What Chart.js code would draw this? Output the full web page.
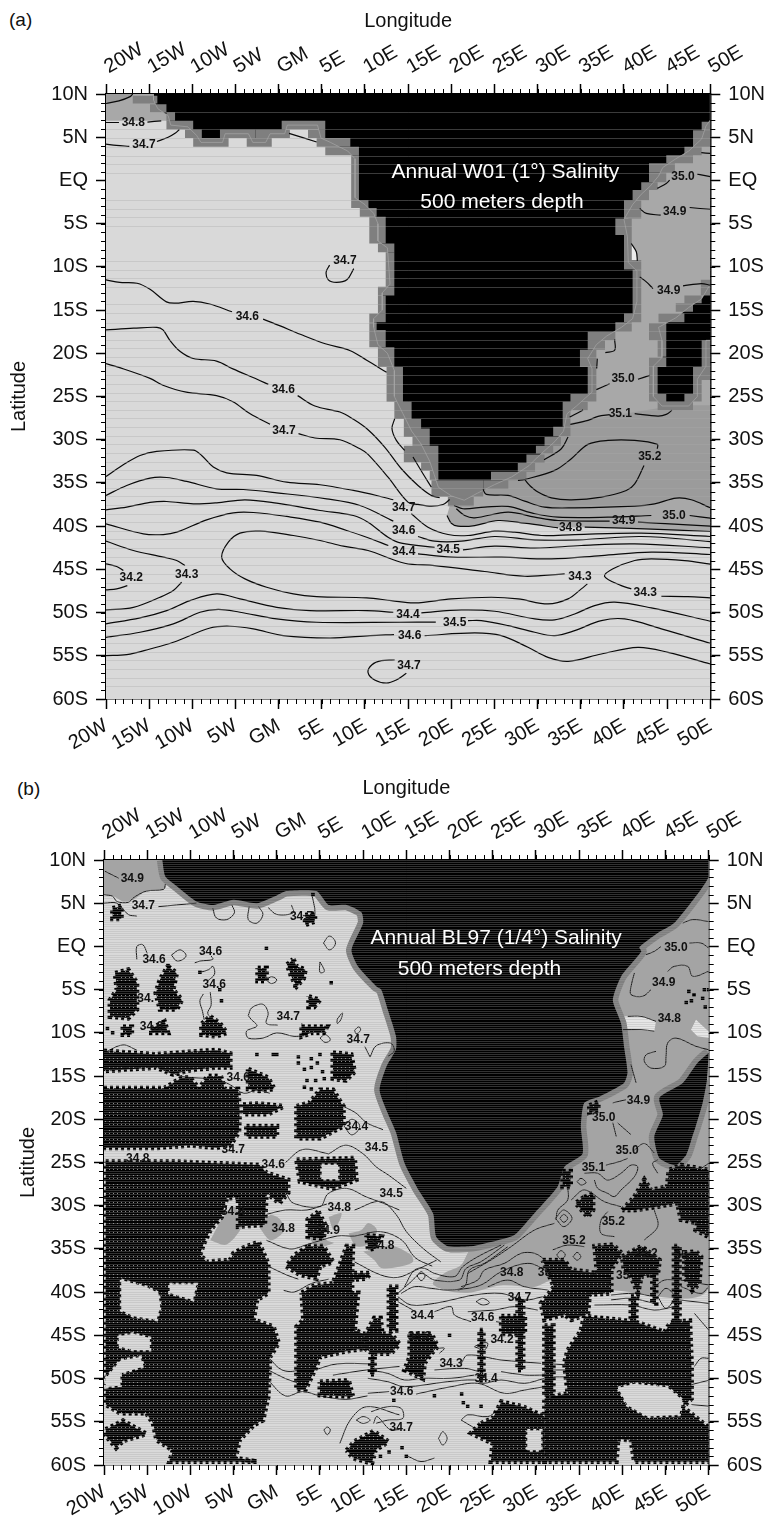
<!DOCTYPE html>
<html>
<head>
<meta charset="utf-8">
<script src="https://cdn.jsdelivr.net/npm/chart.js@4/dist/chart.umd.min.js"></script>
<style>
  body { margin: 0; background: #fff; font-family: "Liberation Sans", Arial, sans-serif; }
  canvas { position: absolute; left: 0; }
  .tag { position: absolute; font-size: 19px; color: #111; }
</style>
</head>
<body>
<div class="tag" style="left:9px;top:9px">(a)</div>
<canvas id="panelA" width="768" height="760" style="top:0"></canvas>
<div class="tag" style="left:17px;top:778px">(b)</div>
<canvas id="panelB" width="768" height="757" style="top:760px"></canvas>
<script>
// axis labels
const lonTicks = [-20,-15,-10,-5,0,5,10,15,20,25,30,35,40,45,50];
const lonLabels = ['20W','15W','10W','5W','GM','5E','10E','15E','20E','25E','30E','35E','40E','45E','50E'];
const latTicks = [10,5,0,-5,-10,-15,-20,-25,-30,-35,-40,-45,-50,-55,-60];
const latLabels = ['10N','5N','EQ','5S','10S','15S','20S','25S','30S','35S','40S','45S','50S','55S','60S'];

// ---- panel (a), everything is [lon, lat]
const titleA = [['Annual W01 (1°) Salinity',26.26,0.93],['500 meters depth',25.87,-2.55]];
const landA = [
  [[-14.5,10],[-14.5,9.3],[-14,8.3],[-12.8,7.5],[-12.5,6.4],[-10.5,6.2],[-9.5,5.2],[-9,4.4],[-6.5,4.4],[-6.2,5.4],[-3.5,5.4],[-3,4.4],[-1.5,4.4],[-1,5.4],[.7,5.4],[1,6.4],[4.5,6.4],[4.9,4.9],[6,4.4],[8,3.4],[8.85,2.5],[8.85,-2],[10,-2.8],[11,-3.8],[11.5,-5],[11.5,-7],[12.6,-7.8],[12.9,-12],[12,-13],[12,-15],[11,-16],[11,-17],[11.5,-19],[12.6,-20],[13.4,-22],[13.4,-25],[14.4,-27],[15.4,-29],[16.5,-30.5],[17.5,-32.5],[18,-34],[18.5,-35.5],[20,-36.5],[21.5,-37],[23,-36.2],[25,-35.2],[27,-34.3],[29,-33],[30,-32],[31,-31.1],[32,-30.2],[33,-29],[33.4,-27],[34.5,-26.1],[35.5,-25.2],[36.3,-24.5],[36.3,-21.8],[35.8,-20.6],[36.8,-19],[38,-18],[39.7,-17],[41,-16],[41.5,-14],[41.5,-10.5],[40.5,-9.5],[40.4,-6.5],[40,-4.5],[41,-2.8],[42,-1.6],[43,-.7],[44,.5],[44.5,1.5],[46,2.5],[47.5,3.4],[49,4.8],[49.5,6.3],[50,7],[50,10]],
  [[50,-12],[49,-13.7],[47.5,-14.7],[46,-15.9],[44,-17],[44.4,-18.5],[44.4,-20.5],[43.4,-21.5],[43.4,-25],[44.4,-26.1],[47.5,-26.1],[48.5,-25],[48.5,-23],[49.5,-21.5],[49.5,-18.5],[50,-18.5]]
];
// one degree coast cells, [lon left, lon right, lat top, lat bottom]
const coastCellsA = [
  [-16.9,-14.05,9.8,8.9],[-14.9,-13,8.8,7.9],[-13,-12,7.9,6.9],[-13,-9.9,6.9,5.9],[-10.85,-8.9,5.9,4.9],[-9.9,-5.8,4.9,3.9],[-6.8,-2.7,5.9,4.9],[-3.7,-.8,4.9,3.9],[-2.7,1.3,5.9,4.9],[.35,5.4,6.9,5.9],[3.4,5.4,5.9,4.9],[4.4,8.3,4.9,3.9],[5.4,9.3,3.9,2.9],[8.4,9.3,2.9,-2.3],[8.4,10.4,-2.3,-3.2],[9.4,11.35,-3.2,-4.2],[10.5,12.4,-4.2,-7.3],[11.5,13.4,-7.3,-8.3],[12.4,13.4,-8.3,-12.3],[11.5,13.4,-12.3,-13.3],[11.5,12.4,-13.3,-15.4],[10.5,12.4,-15.4,-16.4],[10.5,11.35,-16.4,-17.3],[10.5,12.4,-17.3,-19.3],[11.5,13.4,-19.3,-21.6],
  [12.5,14.4,-21.6,-25.6],[13.4,15.4,-25.6,-27.6],[14.5,16.5,-27.6,-29.7],[15.5,17.5,-28.7,-30.7],[14.5,18.5,-30.7,-32.6],[16.5,18.5,-32.6,-33.6],[17.5,18.5,-33.6,-34.7],[17.7,23.7,-34.7,-36.6],[19.6,22.6,-36.6,-37.7],[23.7,26.6,-34.7,-35.7],[24.6,28.7,-33.7,-34.7],[27.7,29.7,-32.7,-33.7],[28.7,30.8,-31.7,-32.7],[29.8,31.8,-30.7,-31.6],[30.8,32.7,-29.7,-30.7],[31.8,33.8,-28.5,-29.6],[32.9,33.8,-26.6,-28.5],[32.9,35.8,-25.6,-26.6],[33.8,36.8,-24.7,-25.6],[35.8,36.8,-21.6,-24.7],[34.9,36.8,-19.6,-21.6],[35.8,37.8,-18.5,-19.6],[35.8,39,-17.5,-18.5],[39,40.9,-16.4,-17.5],[40,42,-15.4,-16.4],[41,42,-10.3,-15.4],[40,42,-9.2,-10.3],[40,40.9,-6.3,-9.2],[39,40.9,-4.4,-6.3],[40,42,-2.3,-4.4],[41,42.9,-1.1,-2.3],[42,43.9,-.2,-1.1],[42.9,44.9,.9,-.2],[42.9,45.9,2,.9],[44.9,48,2.9,2],[47,49,3.9,2.9],[48,50,5.8,3.9],[49,50,6.8,5.8],
  [48.9,50,-11.5,-13.3],[47,49,-13.3,-14.2],[46,48,-14.2,-15.2],[44,47,-15.4,-16.4],[42.9,44.9,-16.5,-18.5],[43.9,44.9,-18.5,-20.4],[42.9,44.9,-20.5,-21.6],[42.9,43.9,-21.6,-24.7],[42.9,44.9,-24.7,-25.6],[43.9,48,-25.6,-26.6],[47,49,-24.7,-25.6],[48,49,-23.1,-24.7],[48,50,-21.6,-23.1],[49,50,-18.5,-21.6]
];
const midZoneA = [
  [[-20,10],[-14,10],[-13,7.9],[-12,6.9],[-20,6.9]],
  [[50,7],[48,4],[43,1],[40.5,-3],[40.5,-9],[41,-15],[36,-19],[33,-26],[30,-31],[24,-35],[20,-37],[19.5,-38.77],[20,-39.66],[20.77,-40],[22.71,-39.93],[25.41,-39.35],[28.5,-39.66],[32.36,-40.2],[35.45,-40.12],[42.4,-40.31],[50,-40.62]]
];
const deepZoneA = [
  [[-20,10],[-16.9,10],[-17.2,9.7],[-18.5,9.2],[-20,8.9]],
  [[23.67,-35.76],[24.06,-36.33],[26.57,-36.45],[28.5,-37.11],[30.81,-37.8],[34.29,-37.88],[41.24,-37.69],[43.55,-37.42],[46.06,-36.76],[47.8,-36.95],[50,-37.88],[50,-26],[46,-26],[34,-28],[30,-32],[25,-35]]
];
const paleZoneA = [[[40.85,-7.3],[41.45,-8.3],[41.55,-9.3],[40.9,-9.3]]];
const scanLatsA = [7.88,5.87,4.86,3.86,2.82,1.85,.85,-2.28,-3.32,-4.29,-5.37,-9.38,-10.39,-11.39,-12.39,-14.4,-15.4,-16.5,-17.5,-18.5,-19.5,-20.5,-21.5,-22.6,-23.6,-24.6,-25.6,-26.6,-27.6,-28.6,-29.6,-30.6,-31.6,-32.6,-33.6,-34.6,-35.6,-36.6,-37.6,-38.6,-39.6,-40.6,-41.6,-42.6,-43.6,-44.6,-45.6,-46.6,-47.6,-48.6,-49.6,-50.6,-51.6,-52.6,-53.6,-54.6,-55.6,-56.6,-57.6,-58.6];
const contoursA = [
  [[-20,8.9],[-18.5,9.2],[-17.2,9.7],[-16.9,10]],
  [[-20,6.7],[-18.5,6.7]],[[-15.2,6.75],[-13.6,6.9]],
  [[-20,4.2],[-18.8,4.05],[-17.3,3.95]],[[-14.1,4.5],[-12.8,5],[-12,5.45],[-11.5,5.9]],
  [[1.2,5.45],[4.4,4.45]],
  [[5.9,-9.8],[5.5,-10.6],[5.75,-11.5],[6.7,-11.8],[7.9,-11.5],[8.7,-10.2]],
  [[-20,-11.5],[-18.4,-11.8],[-16.4,-11.9],[-14.9,-12.6],[-13,-14.05],[-12,-14.2],[-9.9,-14],[-8,-14.3],[-5.4,-15.2]],
  [[-1.8,-16.05],[.1,-16.8],[2.5,-17.8],[5.4,-18.9],[8.3,-19.7],[10.2,-20.8],[12.5,-22.2]],
  [[-20,-17.3],[-16.8,-17.1],[-14.1,-17],[-13.4,-17.3],[-12.6,-18.5],[-11.4,-19.8],[-9.9,-20.6],[-7.2,-20.9],[-5.3,-21.8],[-2.5,-23],[-1.2,-23.6]],
  [[2.2,-24.9],[4.2,-26.1],[7.1,-26.8],[8.6,-27.6],[10.35,-28.84],[12.28,-30.85],[14.21,-33.36],[16.14,-35.29],[17.69,-36.45],[18.65,-36.72]],
  [[-20,-21.2],[-18.6,-21.6],[-14.9,-22.9],[-13.4,-23.7],[-10.7,-24.5],[-7.2,-24.9],[-5.3,-25.6],[-3.3,-27],[-1,-28.2]],
  [[2.3,-29.3],[4.2,-29.8],[7.1,-30],[9.42,-31.05],[10.35,-31.7],[12.67,-34.33],[14.98,-37.22],[16.14,-37.49],[17.69,-37.69],[19.04,-37.49],[19.81,-36.93]],
  [[-20,-34.25],[-18,-32.9],[-16.06,-31.82],[-14.13,-31.35],[-9.88,-31.2],[-8.92,-31.82],[-7.57,-33.17],[-6.02,-33.83],[-2.55,-34.13],[.93,-34.91],[4.79,-35.21],[8.65,-35.87],[11.35,-36.45],[13.28,-36.95]],
  [[-20,-36.45],[-17.6,-35.29],[-14.9,-34.44],[-12.97,-34.37],[-10.66,-34.83],[-7.18,-35.68],[-4.09,-35.76],[-.23,-36.14],[5.56,-36.84],[9.42,-37.61],[13.28,-39.42]],
  [[-20,-38.11],[-17.6,-37.8],[-14.9,-37.26],[-12.97,-37.15],[-9.88,-37.42],[-7.18,-37.3],[-3.9,-36.95],[-.23,-37.34],[4.79,-38.19],[8.65,-38.77],[10.35,-39.54],[12.67,-41.28],[14.21,-41.97],[18.07,-42.44]],
  [[-20,-39.73],[-15.68,-40.89],[-13.36,-40.97],[-11.81,-40.7],[-8.34,-39.27],[-5.25,-38.46],[-2.93,-38.42],[.93,-38.88],[4.79,-39.54],[7.88,-40.5],[10.19,-41.28],[12.7,-42.24]],
  [[33.13,-45.52],[28.5,-45.8],[23.86,-45.25],[18.07,-44.56],[14.6,-44.29],[10.35,-42.82],[7.49,-42.32],[4.79,-41.66],[1.7,-41.08],[-2.16,-40.58],[-4.48,-40.81],[-5.83,-41.86],[-6.6,-43.59],[-5.64,-44.94],[-3.9,-46.1],[-1.39,-47.07],[1.7,-47.84],[4.4,-48.15],[10.19,-48.3],[13.05,-48.61],[15.76,-48.88],[20,-48.42],[24.64,-48.23],[27.73,-48.42],[31.2,-49],[33.52,-48.42],[35.06,-47.26],[35.76,-46.68]],
  [[50,-44.4],[47.03,-43.98],[43.17,-43.79],[41.24,-43.98],[38.73,-44.94],[37.76,-45.83],[39.69,-46.88],[40.85,-47.26]],
  [[44.33,-48.11],[47.41,-48.15],[50,-48.3]],
  [[-20,-44.37],[-18.76,-44.67],[-17.99,-45.14]],[[-20,-47.38],[-18.76,-47.26],[-17.53,-46.88]],
  [[-20,-41.74],[-16.83,-42.82],[-13.36,-43.59],[-11.81,-43.98],[-10.85,-44.56]],
  [[-20,-49.69],[-16.83,-49.39],[-13.75,-48.23],[-12.2,-47.45],[-11.24,-46.49]],
  [[-20,-51.31],[-16.06,-50.62],[-12.97,-49.77],[-10.27,-48.61],[-7.18,-47.84],[-4.48,-48.42],[-.23,-49.39],[3.63,-49.77],[10.19,-49.77],[13.28,-49.96]],
  [[16.53,-50.04],[21.16,-49.69],[25.02,-49.85],[29.66,-50.74],[31.97,-50.85],[34.29,-50.16],[36.6,-49.19],[38.92,-48.8],[43.17,-49.46],[50,-51]],
  [[-20,-52.86],[-16.06,-52.28],[-12.2,-51.31],[-9.11,-49.96],[-6.99,-49.62],[-4.48,-49.96],[-.23,-50.74],[4.4,-51.12],[14.05,-51.12],[18.2,-51.1]],
  [[21.93,-50.93],[23.48,-50.93],[26.57,-51.51],[29.66,-52.28],[31.97,-52.67],[34.29,-52.09],[37.38,-50.93],[40.08,-50.74],[44.33,-51.89],[50,-53.55]],
  [[-20,-54.98],[-17.6,-54.87],[-14.9,-54.21],[-12.2,-53.44],[-7.95,-51.78],[-5.64,-51.58],[-2.93,-51.89],[.54,-52.67],[5.95,-52.94],[10.58,-52.67],[13.36,-52.55]],
  [[16.91,-52.67],[22.71,-52.36],[25.79,-52.67],[28.88,-54.02],[31.2,-55.18],[33.52,-55.64],[37.38,-54.79],[41.62,-54.02],[45.1,-54.6],[50,-55.95]],
  [[13.44,-55.49],[11.9,-55.56],[10.81,-56.03],[10.35,-56.91],[11.12,-57.8],[12.47,-58.15],[13.63,-57.8],[14.79,-57.03]],
  [[23.67,-35.76],[24.06,-36.33],[26.57,-36.45],[28.5,-37.11],[30.81,-37.8],[34.29,-37.88],[41.24,-37.69],[43.55,-37.42],[46.06,-36.76],[47.8,-36.95],[50,-37.88]],
  [[20.31,-37.61],[21.35,-37.99],[23.86,-37.8],[26.57,-37.72],[29.66,-38.57],[32.36,-38.96],[38.15,-38.96],[43.17,-38.77]],[[47.61,-38.77],[50,-39.08]],
  [[20.58,-37.99],[21.55,-38.77],[22.71,-39.04],[26.57,-38.38],[29.66,-38.96],[32.36,-39.35],[38.34,-39.42]],[[41.62,-39.54],[50,-40]],
  [[19.5,-38.77],[20,-39.66],[20.77,-40],[22.71,-39.93],[25.41,-39.35],[28.5,-39.66],[32.36,-40.2]],[[35.45,-40.12],[42.4,-40.31],[50,-40.62]],
  [[15.37,-38.57],[17.3,-40.12],[19.62,-40.97],[21.93,-41.08],[25.02,-40.58],[27.34,-40.7],[30.43,-41.08],[34.29,-40.97],[42,-40.81],[50,-41.2]],
  [[16.14,-41.2],[18.07,-41.74],[21.16,-41.74],[25.02,-41.2],[29.66,-41.59],[34.67,-41.59],[42,-41.2],[50,-41.78]],
  [[21.35,-42.74],[25.02,-42.32],[29.66,-42.55],[35.06,-42.24],[41.24,-42.05],[50,-42.51]],
  [[16.14,-43.21],[20,-43.59],[25.79,-43.59],[31.59,-43.79],[37.38,-43.4],[43.17,-43],[50,-43.28]],
  [[48.96,3.21],[50,3.13]],
  [[43.86,-.92],[44.9,-.35],[45.29,.04]],[[48.5,.73],[50,.43]],
  [[41.82,-3.24],[42.59,-3.82],[44.25,-4.01]],[[47.61,-3.13],[50,-3.36]],
  [[40.85,-7.3],[41.43,-8.26],[41.55,-9.3]],
  [[41.82,-11.16],[42.59,-11.74],[43.36,-12.51]],[[46.84,-12.2],[48.96,-11.93],[50,-12.12]],
  [[38.92,-18.41],[38.92,-19.65],[37.84,-19.92]],[[36.91,-20.62],[36.84,-21.77]],
  [[36.8,-24.21],[38.34,-23.52]],[[41.62,-23.01],[42.97,-22.55]],
  [[33.71,-27.38],[35.06,-26.68],[35.25,-26.53]],
  [[33.79,-28.23],[35.83,-27.76],[37,-27.3],[38.34,-27.1]],[[41.24,-26.99],[43.94,-27.26],[44.9,-27.07],[45.56,-26.6]],
  [[30.74,-32.32],[32.74,-31.05],[33.52,-29.69]],
  [[27.72,-34.71],[28.5,-34.6],[31.97,-33.55],[33.9,-32.2],[35.83,-30.54],[38.15,-30.08],[41.24,-30.08],[43.86,-30.54],[43.86,-31.05]],
  [[42.32,-32.98],[41.24,-35.1],[40.27,-35.87],[37.38,-36.64],[33.9,-36.95],[31.59,-36.72],[30.04,-36.06],[29.08,-35.29],[28.5,-34.6]],
  [[13.44,-27.57],[13.13,-28.73],[13.63,-30.08],[14.6,-31.24]],[[15.56,-32],[16.72,-33.94],[17.69,-35.49]]
];
const labelsA = [
  ['34.8',-16.83,6.68],['34.7',-15.6,4.09],['34.7',7.68,-9.23],['34.6',-3.63,-15.79],['34.6',.54,-24.18],['34.7',.62,-28.9],['34.2',-17.07,-46.02],['34.3',-10.66,-45.56],
  ['34.7',14.48,-37.92],['34.6',14.48,-40.5],['34.4',14.48,-42.94],['34.5',19.65,-42.7],['34.8',33.82,-40.23],['34.9',39.96,-39.42],['35.0',45.79,-38.84],['34.3',34.91,-45.83],['34.3',42.47,-47.65],
  ['34.4',14.98,-50.2],['34.5',20.39,-51.12],['34.6',15.18,-52.67],['34.7',15.1,-56.14],['35.1',39.58,-26.99],['35.2',43,-32],['35.0',39.9,-22.93],['35.0',46.84,.43],['34.9',45.87,-3.63],['34.9',45.18,-12.7]
];

// ---- panel (b)
const titleB = [['Annual BL97 (1/4°) Salinity',25.4,0.9],['500 meters depth',23.46,-2.6]];
const landB = [
  [[-13.25,10],[-12.9,8.1],[-11.6,7],[-9.3,5.2],[-7.35,4.8],[-5,5.4],[-2.3,5],[0,5.9],[1.1,6.4],[4.6,6.4],[6,4.8],[8.1,4.8],[9.8,3.95],[10,2.7],[8.65,-.4],[9.4,-2.3],[11.5,-4.6],[12.1,-5],[12.85,-7.3],[13.8,-10.4],[13.8,-11.9],[12.7,-13.9],[11.9,-16.6],[12.85,-19.3],[13.8,-21.5],[14.8,-25.1],[16.3,-28],[18.1,-30.9],[18.45,-33.6],[19.8,-34.7],[22.5,-34.7],[25.6,-34],[27.5,-33.4],[29.8,-30.9],[32.5,-27.8],[33.3,-25.5],[35.4,-24],[35.2,-20.8],[35.6,-18.1],[37.5,-17.3],[40.2,-15.8],[40.6,-14.6],[40.2,-11.6],[39.85,-8.9],[38.9,-6.2],[39.85,-3.5],[42.2,-.6],[41.97,-.1],[44.1,1.55],[46,2.7],[49.1,6.6],[50,8.1],[50,10]],
  [[50,-12.3],[48.7,-13.5],[47,-15.8],[44.3,-17.5],[44.7,-19.5],[43.7,-22],[44.3,-24.5],[46.2,-25.3],[47.4,-24.1],[48.1,-22],[48.5,-20.8],[49.3,-18.1],[49.8,-15.4]]
];
const midZoneB = [
  [[-20,10],[-13.3,10],[-12.9,6.8],[-15.1,6.4],[-16.6,5.4],[-17.8,5.2],[-18.9,5.8],[-20,6]],
  [[50,8.1],[42,-.5],[39,-6],[40,-12],[40.5,-15],[35,-20],[33,-26],[29.8,-31],[25.6,-34.2],[22.5,-35],[21.3,-36.9],[19.4,-37.8],[18.06,-39],[19.4,-39.75],[22.1,-40.1],[26,-39.2],[29.8,-39.4],[32.1,-38.6],[39.1,-39.8],[50,-39.4]],
  [[-7.7,-34],[-6.2,-31.3],[-5,-30.1],[-3.9,-32],[-5.8,-34.5]],
  [[-2.1,-32.4],[-.8,-31.1],[.3,-31.5],[.9,-32.8],[-.7,-34]],
  [[3.3,-32.8],[4.3,-31.8],[5.8,-34],[6.6,-34.3],[4.6,-34.7]],
  [[6,-31.3],[7.5,-30.9],[6.6,-32.8]],
  [[8.3,-33.2],[9.8,-32.8],[10.6,-32],[11.6,-32.8],[10.8,-34.3],[9.2,-34.7]],
  [[10,-35.3],[11.9,-34.9],[13.3,-34.6],[15.55,-35.7],[15.75,-36.5],[14,-37.1],[12.1,-37.2],[11.3,-36.3]]
];
const paleZoneB = [
  [[40.04,-8.1],[42.16,-8],[43.9,-8.67],[43.7,-9.8],[40.23,-9.6]],
  [[47.95,-9.63],[48.53,-8.47],[50,-9.83],[50,-10.6],[48.7,-10.4]]
];
const missingB = [
  [[-18.7,-3.1],[-17.2,-2.7],[-16.2,-4.2],[-16.2,-7.3],[-17.2,-8.3],[-19.3,-8.1],[-19.3,-6.2],[-18.5,-5]],
  [[-12.6,-2.3],[-11.6,-3.1],[-12,-5],[-11,-6.2],[-11.6,-7.3],[-13.5,-7.3],[-14,-5.4],[-13.5,-3.8]],
  [[-7.7,-8.1],[-6.6,-8.9],[-5.8,-10],[-7,-10.4],[-8.7,-10.2],[-8.7,-9]],
  [[-14.5,-9.5],[-13,-8.7],[-12.6,-10],[-14.5,-10]],[[-17.8,-9.3],[-16.8,-9.3],[-16.8,-10.2],[-17.8,-10.2]],
  [[-2.2,-2.5],[-1.2,-2.5],[-1.2,-4],[-2.2,-4]],
  [[1.9,-1.5],[2.3,-2.3],[3.3,-2.7],[3.1,-3.7],[2.3,-4.6],[1.7,-3.5],[1.2,-2.1]],
  [[3.7,-5.8],[5,-6.2],[4.3,-7],[3.7,-7]],[[2.9,-9.3],[5.8,-9.3],[5.4,-10],[4,-10],[2.9,-10.4]],
  [[3.3,3.6],[4.4,3.8],[4.4,2.9],[3.3,2.5]],[[-19,4.4],[-18,4.7],[-18,3.2],[-19,3.2]],
  [[-20,-12.1],[-14,-12.5],[-10,-12.2],[-7,-12],[-5.4,-12.4],[-5.4,-14],[-7,-14],[-10,-14.3],[-12,-14.8],[-14,-14],[-20,-14.4]],
  [[-20,-16.4],[-13,-16.4],[-11,-15.2],[-10,-15.2],[-9,-16.5],[-8,-15],[-6.5,-15],[-6,-16.5],[-4.5,-16.5],[-4.3,-19],[-4.4,-21.5],[-5.4,-23],[-7,-23.3],[-10,-23],[-14,-23.3],[-20,-23.3]],
  [[-19.8,-24.9],[-12,-24.9],[-2,-25.3],[-1.2,-26.2],[1.3,-27],[1.3,-28.5],[.3,-29.7],[-1.2,-28.5],[-1.4,-32.2],[-4.46,-32.4],[-4.46,-29],[-5.8,-29.15],[-6.4,-31.3],[-7.7,-32.8],[-8.5,-34.5],[-8.9,-35.7],[-8.1,-36.5],[-5.4,-36.3],[-5,-35.5],[-3.9,-34.9],[-2.1,-34.2],[-1,-36.7],[-1,-40.1],[-2.3,-40.9],[-2.7,-43.2],[-.4,-44],[.2,-45.9],[-.8,-47.5],[-1,-52.1],[-1.6,-54.8],[-2.7,-55.4],[-4.3,-57.1],[-4.8,-59.2],[-2.3,-59.6],[-12.4,-59.6],[-12,-58.3],[-13.9,-57.1],[-14.3,-55.2],[-15.1,-54],[-18.1,-54],[-19.8,-53]],
  [[-19.8,-55.9],[-17.8,-54.9],[-15.1,-56.4],[-17.8,-57.2],[-18.6,-58],[-19.8,-56.6]],
  [[2.3,-24.7],[9,-24.5],[9.2,-27],[6.5,-28],[2.7,-27.2]],
  [[4.8,-30.7],[5.6,-32.2],[5.4,-33.8],[3.6,-33.6],[3.6,-31.6]],
  [[3.6,-34.7],[5.4,-34.7],[6.5,-36.5],[5,-37],[4.6,-38.4],[2.7,-38],[1.1,-37],[2.1,-35.7]],
  [[2.9,-40.1],[4.4,-39.2],[6.5,-39],[8.1,-34.7],[8.8,-34.7],[8.7,-37.8],[10.8,-37.8],[10.4,-38.4],[8.7,-38.6],[8.7,-40.1],[9.4,-40.1],[9,-44.4],[10,-44.8],[10.2,-46.5],[7.7,-46.9],[5,-47.5],[4.4,-49],[3.3,-51.3],[2.3,-51.3],[2.3,-44],[3.1,-43.2]],
  [[5,-50.4],[8.3,-50.2],[8.8,-52.1],[5,-51.9]],
  [[10.2,-45],[11.3,-43],[12,-43],[12.2,-44.8],[13.2,-44.8],[14.2,-46],[13.2,-47.1],[11.3,-47.1],[11.3,-49.5],[10.8,-49.5],[10.9,-47],[10.2,-46.5]],
  [[13,-39.4],[13.8,-39.4],[13.8,-44.4],[13,-44.4]],
  [[15.4,-44.8],[17.9,-44.8],[18.6,-46.3],[17.9,-47.1],[17.1,-48.2],[16.9,-50],[14.8,-49],[15.4,-47.5]],
  [[8.1,-58.3],[9,-57.3],[11.2,-56.1],[12.9,-57.3],[11.4,-58.3],[11,-59.8],[8.85,-59.2]],
  [[10.4,-33.4],[12.1,-33.6],[11.5,-34.9],[10.6,-35.1]],
  [[-3.9,-18.3],[-2,-18.2],[.8,-18.5],[-1,-19.4],[-3.9,-19.4]],
  [[2.3,-18.5],[3.8,-18.1],[5,-16.6],[6.5,-16.6],[7.7,-18.5],[7.7,-20.8],[5,-22.2],[2.3,-22.2]],
  [[-3.5,-20.8],[0,-20.8],[0,-22],[-3.5,-22]],
  [[6.5,-12.3],[8.6,-12.5],[9,-14.5],[8,-15.5],[6.5,-15.3]],
  [[-3.3,-14.2],[-1,-15.2],[-.3,-16.5],[-2,-16.7],[-3.3,-16.5]],
  [[30.8,-36.3],[33.3,-36.3],[34,-37.4],[37.1,-37.8],[36.8,-34.7],[38.9,-34.5],[39.9,-35.5],[38.7,-37.4],[38.7,-40.1],[36.2,-40.3],[36,-42.5],[34.1,-43.2],[33.3,-42.6],[31,-43.2],[30.6,-41.3],[32.1,-39.4]],
  [[33.7,-46.7],[35.2,-44.5],[35.6,-42.8],[41.4,-43.4],[44.9,-44.6],[45.6,-43.5],[47.8,-43.3],[48,-48.3],[48,-52.3],[47,-53.3],[50,-55.7],[50,-59.6],[41.4,-59.6],[41,-57.1],[39.5,-57],[39.3,-59.6],[31,-59.6],[31,-52.3],[33.7,-51.7],[33.3,-48.2]],
  [[31,-43.9],[32,-43.9],[32,-52.1],[31,-52.1]],
  [[40,-35.9],[42.2,-34.7],[44.3,-36.3],[44.1,-37.8],[42.2,-38.2],[41.8,-40.1],[41,-38.2],[40.2,-37.4]],
  [[43.5,-37.4],[43.9,-37.4],[43.9,-41.3],[43.5,-41.3]],[[41,-40.5],[41.6,-40.5],[41.6,-44],[41,-44]],
  [[46,-34.7],[46.6,-34.7],[46.6,-44],[46,-44]],
  [[40,-30.5],[41.4,-29],[42.55,-27],[43.3,-28.2],[45.2,-27.8],[45.4,-25.9],[46.8,-25.3],[50,-25.9],[50,-33.6],[48.5,-32.8],[48.7,-32],[46.8,-31.6],[46.4,-29.7],[44.1,-30.1],[41.4,-30.5]],
  [[47.2,-35.5],[48.5,-35.3],[49.1,-35.9],[48.9,-39],[48.1,-39.8],[47.2,-38.2]],
  [[35.6,-29],[36.6,-28.6],[36.6,-30.5],[36,-31.3],[34.6,-29.7]],
  [[33.1,-26],[34,-26],[34,-27.8],[33.1,-27.8]],
  [[23.5,-44.4],[23.9,-44.4],[23.9,-50.2],[23.5,-50.2]],[[27.9,-40.8],[28.5,-40.8],[28.5,-49],[27.9,-49]],
  [[26,-42.8],[28.7,-42.8],[28.7,-44.8],[26,-44.8]],
  [[23.65,-55.2],[25,-54.6],[26,-52.7],[28.5,-53.25],[31,-54.4],[31,-59.6],[24.8,-59.6],[25,-57.5],[22.5,-56.3]],
  [[36.2,-18.4],[37.2,-18],[37.2,-19],[36.2,-19.2]]
];
const holesB = [
  [[-18,-38.6],[-15.1,-39.4],[-13.7,-40.1],[-13.5,-41.7],[-13.9,-43.2],[-16.6,-42.8],[-18,-42.1]],
  [[-18.3,-45.1],[-16.6,-44.8],[-14.7,-45.3],[-14.7,-46.7],[-16.6,-46.7],[-18.3,-46.3]],
  [[-19.8,-50],[-18.1,-47.9],[-15.8,-47.5],[-15.4,-48.6],[-18.1,-49.4],[-18.1,-50.8],[-19.8,-51]],
  [[-12.4,-39.1],[-9.3,-39.1],[-9.7,-40.9],[-12.4,-40.1]],
  [[5.2,-25.3],[7.1,-25.3],[7.1,-26.9],[5.2,-26.9]],
  [[39.5,-51.1],[41.4,-50.6],[45.2,-51],[46.98,-52.5],[46.6,-54.2],[42.9,-54.4],[40.6,-53.1]],
  [[29,-56],[30.6,-56],[30.6,-58.3],[29,-58.3]]
];
const specksB = [[-2.3,-12.5],[-.4,-12.5],[.0,-12.5],[2.5,-12.8],[2.5,-13.5],[3.2,-14.2],[4,-13],[4,-14],[4.7,-13.5],[5,-12.5],[5.3,-14.5],[3.5,-15.5],[4.5,-15.5],[3.2,-16.3],[4,-16.5],[5.5,-15.3],[-1.2,-.2],[4.2,6],[-8.9,-3],[-6.6,-5],[-6.4,-6.3],[6.3,-4.2],[2.1,-4.6],[21.4,-51.8],[21.6,-52.8],[22.1,-53.2],[23.65,-53.2],[18.25,-52],[13.55,-52.5],[-19.6,-9.5],[-19,-10],[-12.6,-2.2],[48,-6.3],[48.3,-5.6],[49.5,-5],[49.3,-6],[49.6,-7],[3.8,-37.5],[12,-59],[13,-58.5],[15,-59],[14.5,-58],[47.4,-6.5],[47.7,-5.2],[50,-5],[20,-45]];
const contoursB = [
  [[-19.9,8.7],[-18.3,7.9]],
  [[-20,6],[-19,5.8],[-18.5,5.2],[-17.2,5.1],[-16.5,5.7],[-15.1,6.4],[-13.1,6.6],[-12.9,7.2]],
  [[-20,5],[-18.5,5],[-17.2,3.7],[-16.2,3.5]],[[-13.7,4.6],[-11.6,4.8],[-9.3,5]],
  [[-7.4,4.4],[-7,3.3],[-5.8,3.1],[-4.9,3.9],[-5.2,4.8]],
  [[-3.2,4.6],[-3.3,3.1],[-2.3,2.7],[-1.6,3.7],[-2.1,4.6]],
  [[-1,4.5],[0,3.7],[1.9,3.9],[1.7,4.8]],[[4,6.2],[4.4,4.4],[4.4,3.5]],
  [[-16.2,-1.5],[-16.2,0],[-15.5,.2],[-15,-.8]],
  [[-9.5,-1.9],[-8.9,-1.7],[-7.4,-1.5],[-7.6,-1.1]],
  [[-8.9,-3],[-7.9,-2.7],[-7.4,-2.3],[-7.2,-3.2],[-8,-4]],
  [[-8.5,-5.5],[-8.9,-6.3],[-8.6,-7.5],[-8.4,-8.5]],[[-7.7,-5.3],[-7.6,-6.8],[-8,-7.7],[-7.6,-8.3]],
  [[-3.3,-8],[-2.9,-7.1],[-1.6,-6.7],[-1,-7.7],[-1.2,-8.9],[.1,-9.1]],
  [[2.9,-8.9],[2.9,-10.2],[2,-10.4],[0,-10],[-1.6,-10.6],[-3.3,-10.6],[-3.5,-9.8],[-2.3,-9.2],[-3,-8.4],[-3.3,-8]],
  [[10.2,-11.6],[10.8,-12.8]],[[10.8,-12.8],[11.5,-11.5],[13.2,-11.2],[13.6,-12.1],[12.9,-12.7]],
  [[-20,-12.3],[-17.8,-11.4],[-16.2,-12]],
  [[-12.8,-14.1],[-11.2,-15],[-7,-15.4],[-5.4,-16],[-3.8,-17],[-2.3,-16.6],[-.8,-17]],
  [[7.7,-18.5],[9.2,-19.3],[10.4,-20.4],[12.3,-21.2]],
  [[1.1,-28.6],[1.9,-29.7],[5,-30.1],[5.95,-28.6],[8.1,-28],[10.4,-29],[12.3,-29.7],[14.2,-30.5]],
  [[-1.2,-31],[1,-30.5],[3.5,-30.5],[5.8,-29.8]],
  [[-1.2,-34],[1.5,-35],[3.5,-34.5],[7,-33.5],[9,-33.5],[12,-33],[14.5,-34],[16,-36],[18,-37]],
  [[-1,-37],[1.1,-38],[2.5,-38.5]],[[9,-36.5],[12,-38],[14,-38.3],[16,-37.5],[18.5,-36.3]],
  [[.8,-39.8],[2,-40],[4,-39],[6,-38.5]],
  [[6,-24],[8,-23],[10,-24],[11.5,-25.5],[13,-26.5],[15,-28]],
  [[1,-25],[3,-23.5],[6,-24]],
  [[9,-30.5],[12,-29.5],[13.8,-31],[15,-33],[17,-35],[19,-36.5]],
  [[26.35,-34.55],[23.65,-36.47],[21.92,-37.25],[21.15,-38.6],[18.25,-38.6],[16.71,-37.83],[15.55,-38.79],[14.01,-40.14]],
  [[26.74,-34.74],[24.04,-36.67],[22.3,-37.44],[21.73,-39.37],[19.8,-39.75],[17.87,-39.56],[15.94,-39.37],[14.4,-40.14]],
  [[25.97,-34.55],[23.27,-35.9],[21.53,-37.05],[20.57,-38.2],[18.25,-37.83],[17.1,-37.25],[15.94,-37.44],[14.78,-39.37]],
  [[16.25,-38.13],[16.71,-37.63],[17.17,-38.13],[16.71,-38.67],[16.25,-38.13]],
  [[22.11,-37.82],[24.81,-36.28],[27.12,-34.74],[29.83,-32.81],[32.14,-32.04]],
  [[21.34,-39.37],[23.27,-38.6],[24.04,-37.44],[26.35,-36.67],[28.28,-35.51],[29.83,-35.51],[30.98,-36.28],[31.95,-37.82]],
  [[20.95,-39.75],[23.65,-39.18],[25.97,-37.63],[29.05,-36.67],[30.98,-37.44],[32.14,-38.6]],
  [[24.43,-39.37],[26.74,-38.6],[28.67,-39.37],[31.37,-39.75]],
  [[14.01,-40.53],[15.55,-41.49],[18.25,-41.3],[20.18,-40.91],[22.88,-40.33],[25.97,-40.14],[28.67,-40.91],[30.79,-40.53]],
  [[14.01,-41.1],[15.75,-42.07]],[[18.25,-42.26],[20.18,-41.68],[20.57,-42.65],[22.5,-43.42]],[[25.39,-43.42],[26.5,-43.6]],
  [[23.07,-41.1],[23.85,-40.72],[24.62,-41.22],[23.85,-41.49],[23.07,-41.1]],
  [[22.11,-42.26],[25.2,-42.07],[27.51,-41.68],[30.21,-42.07]],
  [[22.88,-46.31],[23.65,-45.92],[24.43,-45.92],[24.04,-46.69],[22.88,-46.31]],
  [[18.64,-46.5],[19.41,-46.5],[18.83,-47.07]],
  [[21.34,-48.24],[22.11,-47.27],[25.97,-47.85],[30.6,-48.24]],
  [[18.25,-49],[21.72,-48.82],[23.46,-49.2]],
  [[10.54,-49],[12.85,-49.4],[14.78,-50.17],[16.71,-49.97],[20.18,-49.97],[22.88,-49.59]],
  [[25.97,-49.2],[28.67,-49.59],[31,-49.59]],
  [[10.54,-49.97],[12.85,-50.36],[14.78,-50.94],[19.8,-50.36],[22.88,-50.17],[23.85,-50.55],[25.97,-50.17],[28.67,-50.55],[30.98,-49.97]],
  [[10.54,-51.71],[13,-51.5]],[[16.13,-51.79],[20.18,-50.94],[23.27,-50.55],[26.35,-51.71],[28.67,-51.33],[30.98,-50.94]],
  [[-1,-47.5],[.6,-49],[2.5,-49],[4.4,-47.5]],[[-1,-49],[1,-50],[2.7,-50.6]],[[-1,-50.2],[1,-52],[3,-51.5],[5,-52],[8,-52.4],[10.5,-52]],
  [[4.4,-49],[7,-48.3],[11,-48.3]],[[6.5,-49.6],[10.4,-49],[14.2,-48.6]],
  [[10.93,-53.83],[12.85,-53.25],[14.4,-53.45],[14.59,-54.6],[12.85,-54.8],[11.5,-55.18]],
  [[7.3,-57.5],[8.5,-54.8],[10.4,-53.25],[14.2,-54.2]],
  [[9.2,-54.8],[10,-54.4],[10.8,-54.8],[10,-55.2],[9.2,-54.8]],
  [[11.2,-55.2],[11.6,-54.4],[13.1,-55.9],[14.2,-55.9]],
  [[18.72,-56.92],[19.22,-56.15],[19.72,-56.92],[19.22,-57.7],[18.72,-56.92]],
  [[5.45,-55.95],[5.84,-55.6],[6.2,-55.95],[5.84,-56.5],[5.45,-55.95]],
  [[21.34,-54.8],[22.11,-54.2],[24.43,-54.4],[25.58,-53.64]],[[21.34,-54.8],[23.27,-55.95]],
  [[15.2,-59],[16.7,-59.6],[18.25,-59.2]],
  [[35.61,-26.25],[37.15,-26.25],[38.31,-27.03],[39.85,-26.25],[41.01,-25.29],[41.78,-25.48],[41.4,-26.64],[39.85,-28.18],[39.08,-28.95],[38.31,-28.57],[37.15,-27.99],[36.77,-27.03]],
  [[38.1,-25.3],[39.66,-24.9],[40.62,-24.52]],
  [[34.76,-27.22],[35.22,-26.83],[35.8,-27.33],[35.22,-27.6],[34.76,-27.22]],
  [[32.76,-31.46],[33.22,-31],[33.68,-31.46],[33.22,-31.92],[32.76,-31.46]],
  [[32.26,-31.46],[33.22,-30.5],[34.18,-31.46],[33.22,-32.42],[32.26,-31.46]],
  [[33.68,-27.8],[33.68,-29.34],[32.53,-30.5],[32.33,-31.65]],
  [[34.07,-29.34],[35.61,-28.18],[37.92,-29.53],[39.85,-30.11]],
  [[38.31,-30.69],[37.54,-31.65],[37.54,-33.2],[39.08,-33.58]],
  [[43.71,-30.5],[44.1,-32.4],[42.55,-33.97]],
  [[32.4,-35.7],[32.9,-35.2],[33.4,-35.7],[32.9,-36.2],[32.4,-35.7]],
  [[34.3,-35.9],[34.76,-35.4],[35.2,-35.9],[34.76,-36.3],[34.3,-35.9]],
  [[31.95,-35.1],[33.68,-34.55],[35.6,-34.74]],
  [[44.1,-26.25],[43.5,-25.1],[44.1,-24.7]],
  [[41.4,-23.55],[42.55,-22.8],[43.7,-23.9]],[[49.1,-25.7],[50,-25.1]],
  [[38.7,-40.33],[41.4,-40.14],[43.7,-40.53]],[[38.7,-40.9],[41,-40.72],[43.7,-41.3]],
  [[36.77,-41.5],[41,-41.5],[43.7,-42.07],[46,-41.68]],
  [[44.1,-40.53],[45.06,-39.56],[46,-40.53],[45.06,-41.88],[44.1,-40.53]],
  [[43.7,-39.37],[44.87,-38.6],[46.22,-38.6]],[[46.8,-38.6],[50,-39.17]],
  [[46.8,-39.37],[49.1,-40.14],[50,-39.37]],[[46.6,-40.9],[50,-41.3]],[[48.34,-42.45],[50,-44.38]],
  [[48.34,-48.6],[49.1,-47.66],[50,-47.66]],[[48,-50.7],[50,-50.2]],[[48,-53],[50,-53.2]],
  [[43.1,-52.67],[43.7,-52.29],[45.25,-53.25],[44.67,-54]],
  [[31,-48.24],[33.68,-48.43]],[[31,-49],[33.68,-49]],[[32,-49.8],[33.5,-49.8]],
  [[42.75,-.95],[43.71,-.57],[44.48,0]],[[47.76,.4],[49.1,.4],[50,-.18]],
  [[45.25,-2.88],[46.02,-2.3],[47.57,-2.3],[48.15,-3.46],[50,-2.88]],
  [[41.4,-3.07],[41.01,-4.62],[41.01,-5.58],[42.36,-5.77],[43.32,-5]],
  [[40.63,-8.09],[42.17,-8.09],[43.9,-8.67]],[[43.7,-9.8],[42.17,-9.63],[40.05,-9.63]],
  [[50,-11.95],[48.53,-11.56],[46.22,-10.6],[45.25,-11.17],[45.06,-12.72],[44.87,-13.87],[43.32,-14.07],[42.55,-13.3],[42.75,-12.54],[43.9,-12.14]],
  [[41,-13.68],[41.6,-15.8]],[[38.89,-18.1],[40.43,-17.73]],[[39.47,-20.43],[41,-21.78]],[[38.9,-20.4],[39.3,-22]],
  [[47,2.71],[48.15,3.1],[49.9,2.9]]
];
const ringsB = [
  [[5.4,.4],[6.1,1.2],[6.8,.4],[6.1,-.4]],[[-12.2,-1],[-11.2,-.4],[-10.5,-1.1],[-11.5,-1.7]],
  [[-1.2,-3.9],[-.6,-3.5],[0,-3.9],[-.6,-4.3]],[[5,-10.6],[5.6,-10.2],[6.2,-10.8],[5.6,-11.1]],
  [[7,-8.4],[7.6,-7.7],[7.4,-8.5],[7,-8.9]],[[9,-9.7],[9.5,-9.3],[9.7,-9.7],[9.2,-10.1]],
  [[7.8,-20.8],[8.7,-20],[9.6,-20.8],[8.7,-21.8]],[[5,-1.8],[5.3,-2.3],[5.5,-2.9],[5,-3]]
];
const labelsB = [
  ['34.9',-16.72,7.84],['34.7',-15.45,4.76],['34.7',2.87,3.48],['34.6',-14.2,-1.53],['34.6',-7.66,-.6],['34.6',-7.24,-4.42],['34.',-15.18,-6],['34.6',-14.5,-9.24],['34.7',1.33,-8.16],['34.7',9.43,-10.79],['34.6',-4.46,-15.22],['34.4',9.23,-20.81],
  ['34.8',-16.1,-24.52],['34.7',-5.04,-23.48],['34.6',-.41,-25.29],['34.5',11.55,-23.25],['34.5',13.24,-28.57],['34.8',7.23,-30.2],['34.8',.75,-32.69],['34.8',-5.11,-30.69],['34.9',5.95,-32.9],['34.8',12.28,-34.62],['34.8',27.2,-37.8],
  ['34.4',16.83,-42.72],['34.6',23.85,-42.95],['34.7',28.09,-40.64],['34.2',26.08,-45.54],['34.3',20.18,-48.3],['34.4',24.23,-49.97],['34.6',14.47,-51.5],['34.7',14.4,-55.68],['34.2',16.5,-45.15],
  ['35.0',40.55,-23.63],['35.1',36.65,-25.6],['35.2',38.96,-31.85],['35.2',34.4,-34.08],['35.2',42.75,-35.5],['35',30.98,-37.75],['35',40.05,-38.1],['35.',47,-35.8],
  ['35.0',46.2,-.1],['34.9',44.8,-4.15],['34.8',45.44,-8.4],['34.9',41.86,-17.8],['35.0',37.85,-19.85]
];

const FONT = '"Liberation Sans", Arial, sans-serif';

// chains lists of [lon,lat] into one dataset, a null point breaks the line
function chain(lists, closed) {
  const pts = [];
  lists.forEach(list => {
    list.forEach(p => pts.push({ x: p[0], y: p[1] }));
    if (closed) pts.push({ x: list[0][0], y: list[0][1] });
    pts.push({ x: null, y: null });
  });
  return pts;
}

function cellsToPolys(cells) {
  return cells.map(c => [[c[0], c[2]], [c[1], c[2]], [c[1], c[3]], [c[0], c[3]]]);
}

function area(lists, color, extra) {
  return Object.assign({ data: chain(lists, true), fill: 'shape', backgroundColor: color, borderWidth: 0, borderColor: color, pointRadius: 0, tension: 0 }, extra);
}

function lines(lists, color, width, tension, closed) {
  return { data: chain(lists, closed), fill: false, borderColor: color, borderWidth: width, pointRadius: 0, tension: tension };
}

function stipple() {
  const c = document.createElement('canvas');
  c.width = 4; c.height = 9;
  const x = c.getContext('2d');
  x.fillStyle = '#000';
  x.fillRect(0, 0, 4, 9);
  x.fillStyle = '#8a8a8a';
  x.fillRect(1, 1, 1, 1);
  x.fillRect(1, 4, 1, 1);
  return x.createPattern(c, 'repeat');
}

// text sitting on the map, contour labels and the map title
const mapText = {
  id: 'mapText',
  afterDraw(chart, args, opts) {
    const { ctx, scales: { x, y } } = chart;
    ctx.save();
    ctx.textAlign = 'center';
    ctx.textBaseline = 'middle';
    ctx.fillStyle = '#111';
    ctx.font = 'bold 12px ' + FONT;
    opts.labels.forEach(l => ctx.fillText(l[0], x.getPixelForValue(l[1]), y.getPixelForValue(l[2])));
    ctx.fillStyle = '#fff';
    ctx.font = '21px ' + FONT;
    opts.title.forEach(l => ctx.fillText(l[0], x.getPixelForValue(l[1]), y.getPixelForValue(l[2])));
    // one degree minor ticks on all four sides
    const a = chart.chartArea;
    ctx.strokeStyle = '#000';
    ctx.lineWidth = 1;
    ctx.beginPath();
    for (let v = -20; v <= 50; v++) {
      const px = Math.round(x.getPixelForValue(v)) + 0.5;
      ctx.moveTo(px, a.top); ctx.lineTo(px, a.top - 5);
      ctx.moveTo(px, a.bottom); ctx.lineTo(px, a.bottom + 5);
    }
    for (let v = -60; v <= 10; v++) {
      const py = Math.round(y.getPixelForValue(v)) + 0.5;
      ctx.moveTo(a.left, py); ctx.lineTo(a.left - 5, py);
      ctx.moveTo(a.right, py); ctx.lineTo(a.right + 5, py);
    }
    ctx.stroke();
    ctx.restore();
  }
};

function axis(position, labels, values, box, min, max, title) {
  const horizontal = position === 'top' || position === 'bottom';
  const opts = {
    type: 'linear', position, min, max,
    border: { display: true, color: '#000', width: 1.5 },
    grid: { drawOnChartArea: false, tickLength: 10, tickColor: '#000', tickWidth: 1.5 },
    ticks: {
      stepSize: 5, autoSkip: false, color: '#111', padding: horizontal ? 5 : 8,
      font: { family: FONT, size: 20 },
      callback: v => labels[values.indexOf(v)]
    },
    afterFit: s => { if (horizontal) s.height = box; else s.width = box; }
  };
  if (horizontal) { opts.ticks.maxRotation = 30; opts.ticks.minRotation = 30; }
  if (position === 'top') opts.ticks.labelOffset = 12;
  if (title) opts.title = { display: true, text: title.text, color: '#111', font: { family: FONT, size: 20 }, padding: { top: title.pad, bottom: 0 } };
  return opts;
}

function makePanel(id, cfg) {
  const sets = cfg.layers;
  sets.forEach((d, i) => { d.order = sets.length - i; });
  const yScan = {
    type: 'linear', position: 'left', min: -60, max: 10,
    border: { display: false },
    grid: { z: 1, color: cfg.scanColor, lineWidth: 1, drawTicks: false },
    ticks: { display: false, stepSize: 0.25 },
    afterFit: s => { s.width = 0; }
  };
  if (cfg.scanLats) yScan.afterBuildTicks = s => { s.ticks = cfg.scanLats.map(v => ({ value: v })); };
  return new Chart(document.getElementById(id), {
    type: 'line',
    data: { datasets: sets },
    options: {
      responsive: false, animation: false, devicePixelRatio: 1,
      layout: { padding: 0 },
      elements: { point: { radius: 0 } },
      plugins: { legend: { display: false }, tooltip: { enabled: false }, mapText: { labels: cfg.labels, title: cfg.title } },
      scales: {
        x: axis('bottom', lonLabels, lonTicks, cfg.box.bottom, -20, 50),
        xTop: axis('top', lonLabels, lonTicks, cfg.box.top, -20, 50, { text: 'Longitude', pad: cfg.lonPad }),
        y: axis('left', latLabels, latTicks, cfg.box.left, -60, 10, { text: 'Latitude', pad: cfg.latPad }),
        yRight: axis('right', latLabels, latTicks, cfg.box.right, -60, 10),
        yScan
      }
    },
    plugins: [mapText]
  });
}

const OCEAN = '#d9d9d9';
const wholeMap = [[[-20,10],[50,10],[50,-60],[-20,-60]]];

makePanel('panelA', {
  box: { left: 106, right: 57.7, top: 94, bottom: 61 }, lonPad: 9, latPad: 7,
  scanLats: scanLatsA, scanColor: 'rgba(170,170,170,0.35)', labels: labelsA, title: titleA,
  layers: [
    area(wholeMap, OCEAN),
    area(midZoneA, '#a8a8a8'),
    area(deepZoneA, '#9b9b9b'),
    area(paleZoneA, '#ececec'),
    area(landA, '#000'),
    area(cellsToPolys(coastCellsA), '#7f7f7f'),
    lines(landA, '#a6a6a6', 0.7, 0, false),
    lines(contoursA, '#0a0a0a', 1.2, 0.35, false)
  ]
});

makePanel('panelB', {
  box: { left: 104, right: 59.3, top: 100, bottom: 52 }, lonPad: 16, latPad: 16,
  scanColor: 'rgba(165,165,165,0.3)', labels: labelsB, title: titleB,
  layers: [
    area(wholeMap, OCEAN),
    area(midZoneB, '#a4a4a4', { tension: 0.3 }),
    area(paleZoneB, '#e6e6e6'),
    lines(landB, '#7f7f7f', 11, 0.2, false),
    area(landB, '#000', { tension: 0.2 }),
    lines(contoursB, '#1a1a1a', 1, 0.35, false),
    lines(ringsB, '#1a1a1a', 1, 0.4, true),
    // dashed edge gives the ragged cell outline of the missing data blocks
    area(missingB, stipple(), { borderWidth: 5, borderColor: '#000', borderDash: [3, 3] }),
    area(holesB, OCEAN, { borderWidth: 3, borderColor: OCEAN, borderDash: [3, 3] }),
    { data: specksB.map(p => ({ x: p[0], y: p[1] })), showLine: false, pointStyle: 'rect', pointRadius: 2.5, pointBackgroundColor: '#000', pointBorderWidth: 0, borderWidth: 0 }
  ]
});
</script>
</body>
</html>
